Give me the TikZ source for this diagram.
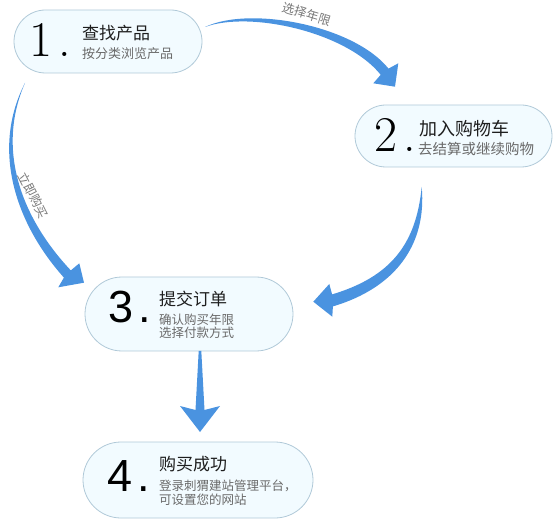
\documentclass[tikz,border=0pt]{standalone}
\usepackage{fontspec}
\newfontfamily\cjk{Noto Sans CJK SC}
\newfontfamily\digsans{Liberation Sans}
\usetikzlibrary{shapes.misc}

\definecolor{arrowblue}{HTML}{4A93E0}
\definecolor{boxfill}{HTML}{F2FBFF}
\definecolor{boxline}{HTML}{B0C9D8}
\definecolor{titlegray}{HTML}{1E1E1E}
\definecolor{subgray}{HTML}{6A6A6A}

\begin{document}
\begin{tikzpicture}[x=1pt, y=-1pt,
    every node/.style={inner sep=0pt},
    stepbox/.style={rounded rectangle, draw=boxline, line width=0.8pt, fill=boxfill},
    bignum/.style={anchor=base west, font=\fontsize{50}{50}\selectfont},
    sansnum/.style={anchor=base west, font=\digsans\fontsize{45}{45}\selectfont},
    steptitle/.style={anchor=west, text=titlegray, font=\cjk\fontsize{17}{20}\selectfont},
    stepsub/.style={anchor=west, align=left, text=subgray, font=\cjk\fontsize{12.5}{13.5}\selectfont},
    arrowtext/.style={text=subgray!90, font=\cjk\fontsize{12.5}{14}\selectfont},
    flow/.style={fill=arrowblue}
]

\useasboundingbox (0,0) rectangle (557,521);

\node[stepbox, minimum width=188pt, minimum height=63pt] (b1) at (108,41.5) {};
\node[stepbox, minimum width=197pt, minimum height=62pt] (b2) at (453.5,136) {};
\node[stepbox, minimum width=208pt, minimum height=74pt] (b3) at (189,314) {};
\node[stepbox, minimum width=230pt, minimum height=76pt] (b4) at (198,480) {};

\node[bignum] (n1) at (29.5,57) {1\kern5.5pt.};
\node[steptitle] (t1) at (82,33.5) {查找产品};
\node[stepsub, font=\cjk\fontsize{13}{13.5}\selectfont] (s1) at (82,53.5) {按分类浏览产品};

\node[bignum] (n2) at (374.5,152) {2\kern5.5pt.};
\node[steptitle, font=\cjk\fontsize{18}{20}\selectfont] (t2) at (419,128.5) {加入购物车};
\node[stepsub, font=\cjk\fontsize{14.5}{15}\selectfont] (s2) at (418,149) {去结算或继续购物};

\node[sansnum] (n3) at (108,323) {3\kern5.5pt.};
\node[steptitle] (t3) at (159,298.5) {提交订单};
\node[stepsub] (s3) at (159,326.3) {确认购买年限\\选择付款方式};

\node[sansnum] (n4) at (107,491) {4\kern5.5pt.};
\node[steptitle] (t4) at (159,464) {购买成功};
\node[stepsub] (s4) at (159,492.8) {登录刺猬建站管理平台，\\可设置您的网站};

\coordinate (a12s) at (205,27);
\coordinate (a12o) at (388.5,68.6);
\coordinate (a12i) at (380.7,74.8);
\coordinate (a12l) at (398.3,63.3);
\coordinate (a12r) at (373.3,83.3);
\coordinate (a12t) at (395,86.7);
\fill[flow] (a12s) .. controls (250,5.5) and (354,25.5) .. (a12o) -- (a12l) -- (a12t)
  -- (a12r) -- (a12i) .. controls (346.5,32) and (250,10.5) .. (a12s) -- cycle;

\coordinate (a13s) at (25,83);
\coordinate (a13o) at (63.9,277.6);
\coordinate (a13i) at (70.8,270.4);
\coordinate (a13l) at (58.3,287.3);
\coordinate (a13r) at (79.3,263.3);
\coordinate (a13t) at (84,282.7);
\fill[flow] (a13s) .. controls (-8.5,148) and (14.2,221.9) .. (a13o) -- (a13l) -- (a13t)
  -- (a13r) -- (a13i) .. controls (19.8,216.1) and (-3.5,148) .. (a13s) -- cycle;

\coordinate (a23s) at (421.7,187);
\coordinate (a23o) at (332.9,306.4);
\coordinate (a23i) at (332.1,294.4);
\coordinate (a23l) at (332.3,316.7);
\coordinate (a23r) at (329.3,284);
\coordinate (a23t) at (313.3,301.7);
\fill[flow] (a23s) .. controls (427,245) and (395,288) .. (a23o) -- (a23l) -- (a23t)
  -- (a23r) -- (a23i) .. controls (390,277) and (416,245) .. (a23s) -- cycle;

\coordinate (a34s) at (200,351);
\coordinate (a34t) at (200,432);
\fill[flow] ([xshift=-1.3pt]a34s) -- (195.5,410) -- (180,406) -- (a34t) -- (220,406)
  -- (204.5,410) -- ([xshift=1.3pt]a34s) -- cycle;

\node[arrowtext, rotate=-17] (l12) at (307,14) {选择年限};
\node[arrowtext, rotate=-63] (l13) at (33.5,195.5) {立即购买};

\end{tikzpicture}
\end{document}
